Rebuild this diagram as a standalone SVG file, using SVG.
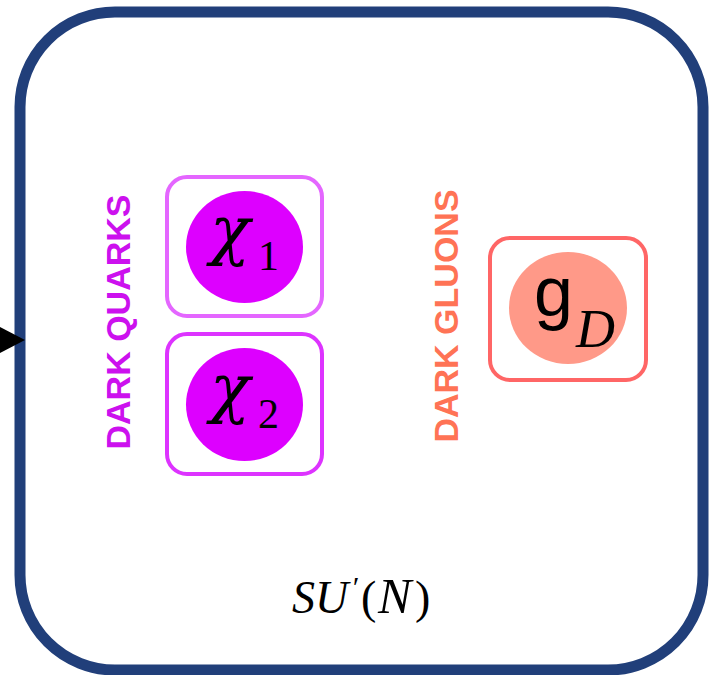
<svg xmlns="http://www.w3.org/2000/svg" width="712" height="675" viewBox="0 0 712 675">
<style>
.math{font-family:"Liberation Serif","Times New Roman",serif;font-style:italic;fill:#000}
.chi{font-family:"DejaVu Serif",serif;font-style:italic;fill:#000}
.up{font-family:"Liberation Serif","Times New Roman",serif;font-style:normal;fill:#000}
.lbl{font-family:"Liberation Sans",Arial,sans-serif;font-weight:bold;font-size:34px}
</style>
<rect x="20" y="12" width="683" height="658" rx="95" ry="95" fill="#fff" stroke="#213f7a" stroke-width="11"/>
<g id="connectors">
<polygon points="0,327 25,340 0,353" fill="#000"/>
</g>
<g id="label-quarks"><text class="lbl" fill="#cc11ee" transform="translate(130,322) rotate(-90)" text-anchor="middle">DARK QUARKS</text></g>
<g id="label-gluons"><text class="lbl" fill="#ff7355" transform="translate(458,316) rotate(-90)" text-anchor="middle">DARK GLUONS</text></g>
<g id="chi1">
<rect x="167" y="177" width="155" height="139" rx="20" fill="#fff" stroke="#e466ff" stroke-width="4"/>
<ellipse cx="244.5" cy="247" rx="58.5" ry="56" fill="#dd00ff"/>
<text class="chi" x="210" y="252" font-size="66">χ<tspan class="up" x="258" y="270" font-size="42">1</tspan></text>
</g>
<g id="chi2">
<rect x="167" y="334" width="155" height="140" rx="20" fill="#fff" stroke="#dd33ff" stroke-width="4"/>
<ellipse cx="244.5" cy="404.5" rx="58.5" ry="56.5" fill="#dd00ff"/>
<text class="chi" x="210" y="410" font-size="66">χ<tspan class="up" x="258" y="428" font-size="42">2</tspan></text>
</g>
<g id="gD">
<rect x="490" y="238" width="156" height="142" rx="20" fill="#fff" stroke="#ff6666" stroke-width="4"/>
<ellipse cx="568" cy="308" rx="59" ry="56" fill="#ff9988"/>
<text x="534" y="316" font-family="Liberation Sans,Arial,sans-serif" font-size="70" fill="#000">g<tspan class="math" x="576" y="347" font-size="54">D</tspan></text>
</g>
<g id="group-label">
<text class="math" x="292" y="613" font-size="46">SU<tspan x="351" y="597" font-size="30">′</tspan><tspan class="up" x="361" y="613">(</tspan><tspan x="378" y="613" font-size="50">N</tspan><tspan class="up" x="415" y="613">)</tspan></text>
</g>
</svg>
